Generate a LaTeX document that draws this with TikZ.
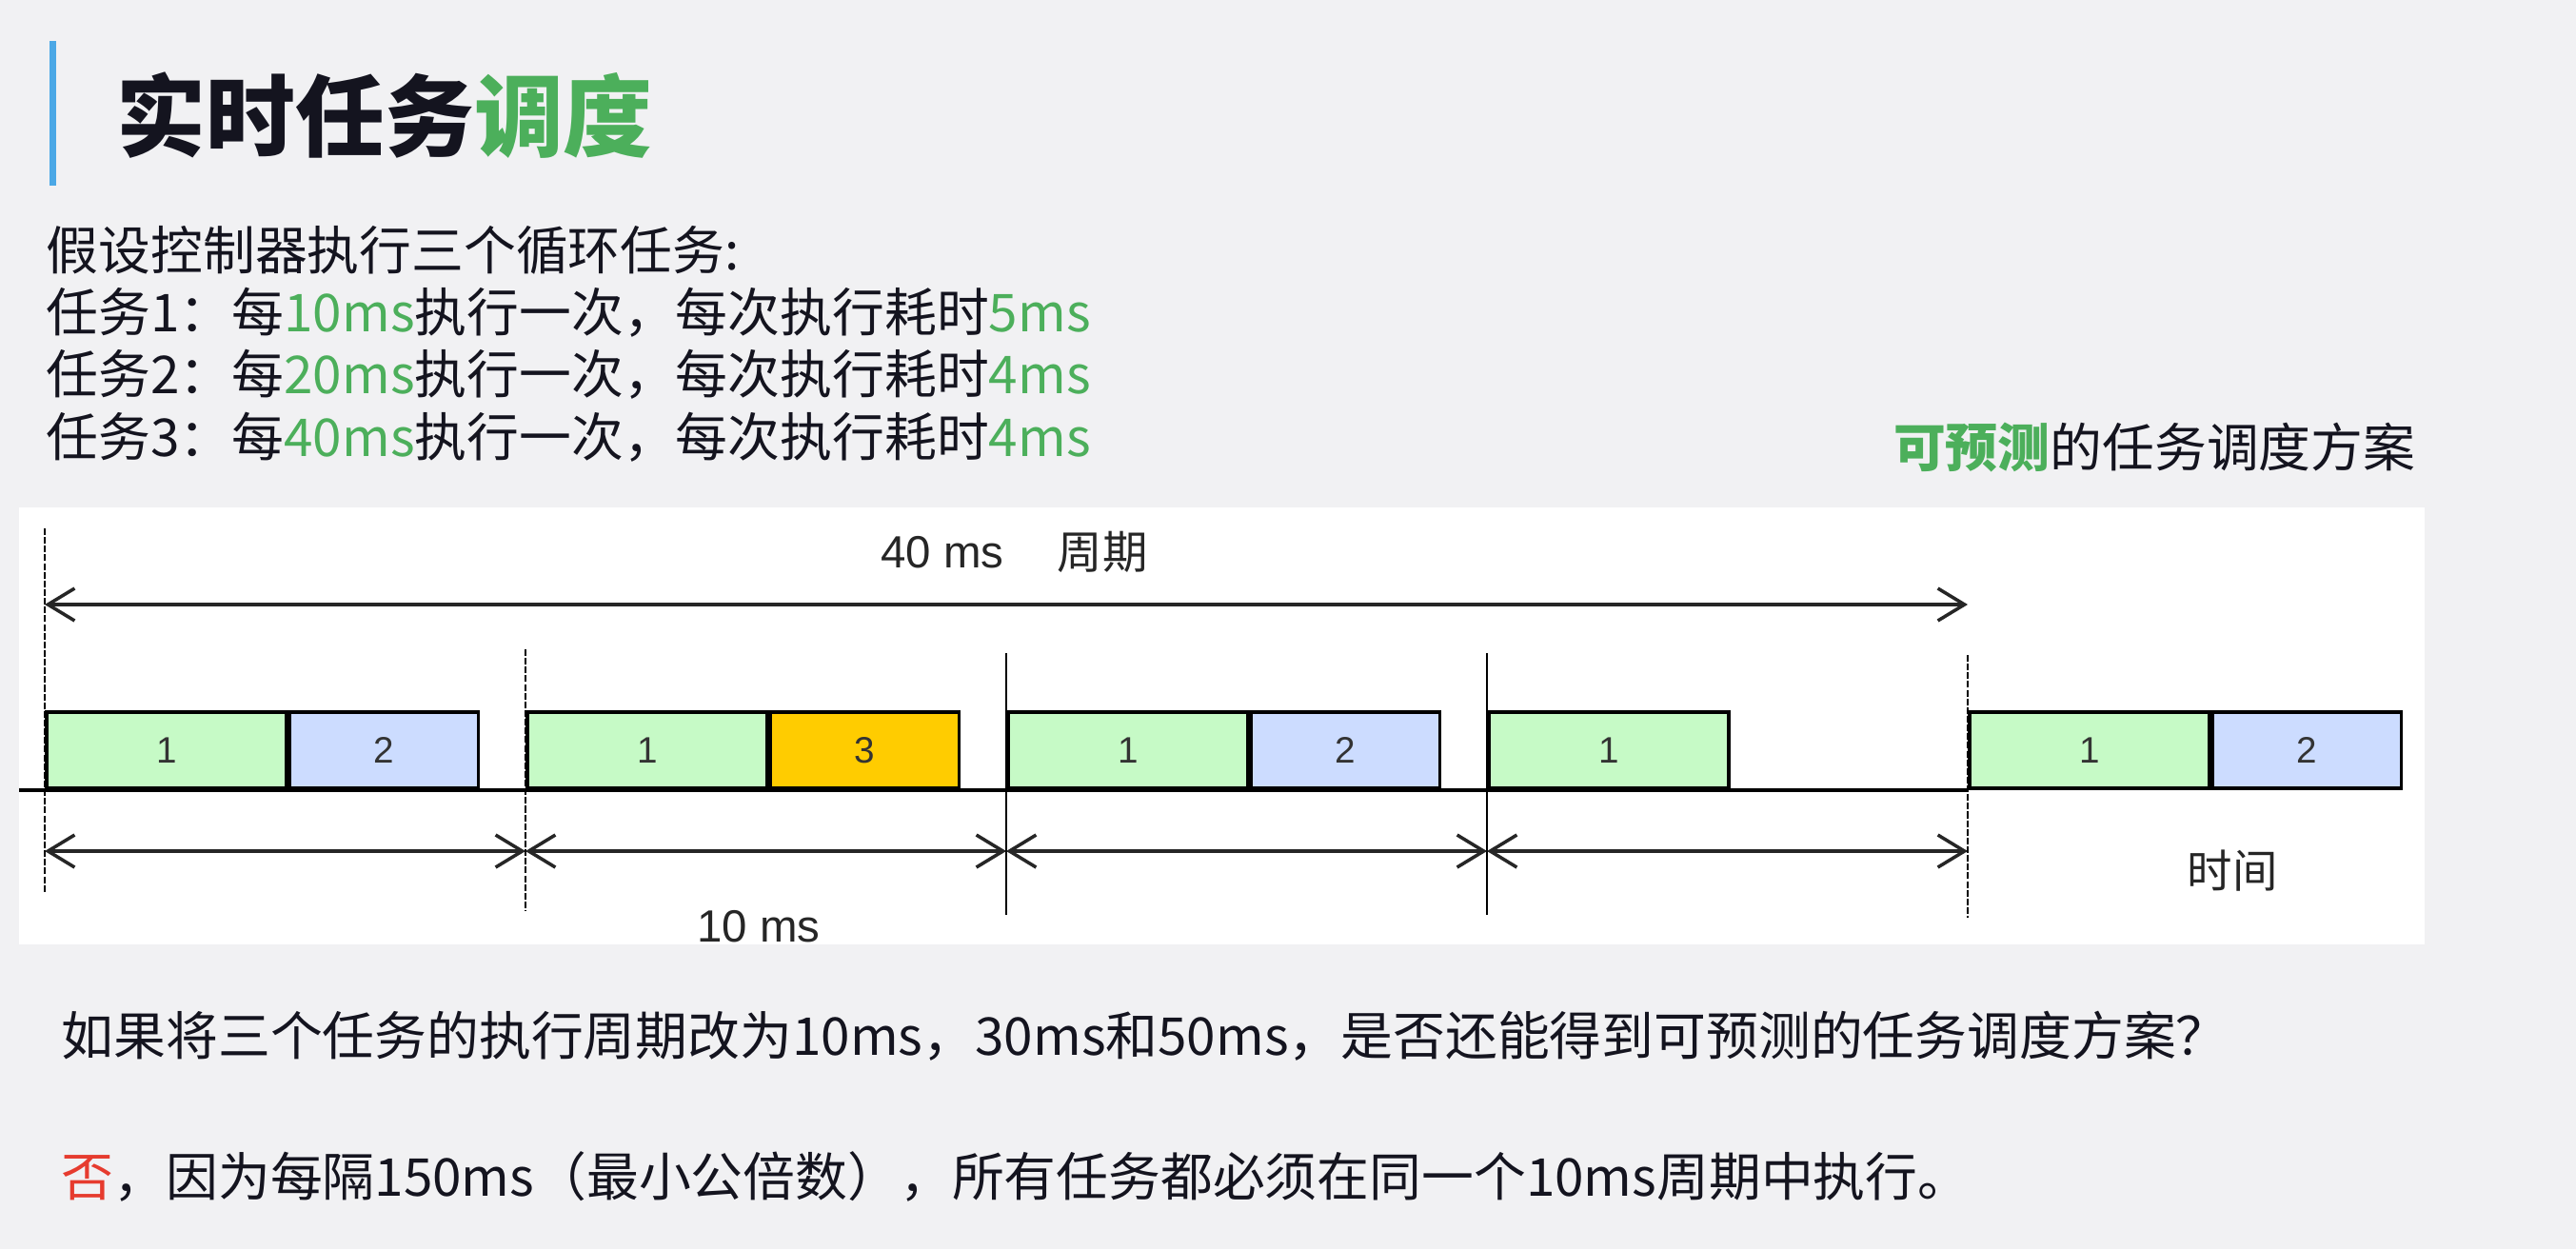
\documentclass[tikz,border=0pt]{standalone}
\usepackage{fontspec}
\setmainfont{Noto Sans CJK SC}
\newfontfamily\figfont{Liberation Sans}
\usetikzlibrary{arrows.meta}
\definecolor{ink}{HTML}{14141F}
\definecolor{leafgreen}{HTML}{4CAF5B}
\definecolor{barblue}{HTML}{4BA8E6}
\definecolor{pagegray}{HTML}{F1F1F3}
\definecolor{noRed}{HTML}{E63B2E}
\definecolor{t1fill}{HTML}{C6FAC6}
\definecolor{t2fill}{HTML}{CCDCFF}
\definecolor{t3fill}{HTML}{FFCC00}

\begin{document}
\begin{tikzpicture}[
  body/.style={anchor=west, inner sep=0pt, text=ink, font=\fontsize{15.6}{18}\selectfont},
  task/.style={draw=black, line width=1pt, minimum height=0.8cm, inner sep=0pt,
    anchor=south west, text=black!80, font=\figfont\fontsize{11}{11}\selectfont},
  span/.style={{Straight Barb[length=2.8mm,width=3.4mm]}-{Straight Barb[length=2.8mm,width=3.4mm]},
    line width=1pt, black!85},
  lbl/.style={inner sep=0pt, text=black!85, font=\fontsize{13.5}{14}\selectfont}
]
\fill[pagegray] (0,0) rectangle (27.06,13.12);
\useasboundingbox (0,0) rectangle (27.06,13.12);

% heading
\fill[barblue] (0.52,11.17) rectangle (0.59,12.69);
\node[anchor=west, inner sep=0pt, text=ink, font=\bfseries\fontsize{26.7}{30}\selectfont]
  (title) at (1.22,11.91) {实时任务\textcolor{leafgreen}{调度}};

\node[body] (intro) at (0.48,10.49) {假设控制器执行三个循环任务:};
\node[body] (task1) at (0.48,9.84) {任务1：每\textcolor{leafgreen}{10ms}执行一次，每次执行耗时\textcolor{leafgreen}{5ms}};
\node[body] (task2) at (0.48,9.19) {任务2：每\textcolor{leafgreen}{20ms}执行一次，每次执行耗时\textcolor{leafgreen}{4ms}};
\node[body] (task3) at (0.48,8.53) {任务3：每\textcolor{leafgreen}{40ms}执行一次，每次执行耗时\textcolor{leafgreen}{4ms}};
\node[body, anchor=east] (scheme) at (25.38,8.42) {\textbf{\textcolor{leafgreen}{可预测}}的任务调度方案};

% timeline panel
\fill[white] (0.20,3.20) rectangle (25.47,7.79);
\def \yb {4.82}  % time axis
\def \period {5.05} % 10 ms
\foreach \k in {0,...,4}
{
  \coordinate (m\k) at ({0.47+\period*\k},\yb);
  \coordinate (a\k) at ({0.47+\period*\k},4.18);
}
\coordinate (axis) at (0.20,\yb);
\draw[line width=1pt] (axis) -- (m4);

\foreach \k/\top/\bot in {0/7.57/3.74, 1/6.30/3.55, 4/6.24/3.48}
  \draw[line width=0.8pt, dash pattern=on 2pt off 0.6pt] ({0.47+\period*\k},\top) -- ({0.47+\period*\k},\bot);
\foreach \k in {2,3}
  \draw[line width=0.7pt] ({0.47+\period*\k},6.26) -- ({0.47+\period*\k},3.51);

\foreach \k in {0,...,4}
  \node[task, fill=t1fill, minimum width=2.52cm] (t1-\k) at (m\k) {1};
\foreach \k/\n/\c in {0/2/t2fill, 1/3/t3fill, 2/2/t2fill, 4/2/t2fill}
  \node[task, fill=\c, minimum width=1.98cm] (t\n-\k) at (t1-\k.south east) {\n};

\coordinate (p0) at (0.47,6.77);
\coordinate (p4) at (20.67,6.77);
\draw[span] (p0) -- (p4);
\foreach \k/\j in {0/1, 1/2, 2/3, 3/4}
  \draw[span] (a\k) -- (a\j);

\node[lbl] (period) at (9.90,7.32) {\figfont 40 ms};
\node[lbl] (periodcn) at (11.58,7.32) {周期};
\node[lbl] (slot) at (7.97,3.39) {\figfont 10 ms};
\node[lbl] (timecn) at (23.45,3.97) {时间};

% question and answer
\node[body] (question) at (0.64,2.24) {如果将三个任务的执行周期改为10ms，30ms和50ms，是否还能得到可预测的任务调度方案？};
\node[body] (answer) at (0.64,0.76) {\textcolor{noRed}{否}，因为每隔150ms（最小公倍数），所有任务都必须在同一个10ms周期中执行。};
\end{tikzpicture}
\end{document}
